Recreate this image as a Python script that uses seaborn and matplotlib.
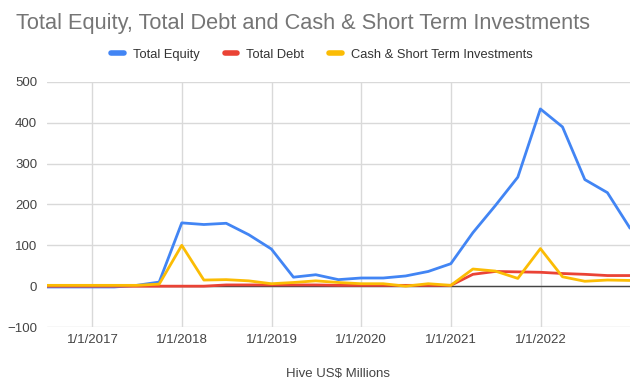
import matplotlib
matplotlib.use("Agg")
import matplotlib.pyplot as plt
from matplotlib.lines import Line2D
import seaborn as sns
import pandas as pd

dates = pd.date_range("2016-06-30", "2022-12-31", freq="QE")
total_equity = [-2, -2, -2, -2, 2, 10, 155, 151, 154, 126, 91, 22, 28, 16, 20, 20, 25, 36, 55,
                131, 197, 267, 434, 390, 261, 229, 142]
total_debt = [0, 0, 0, 0, 0, 0, 0, 0, 3, 3, 3, 3, 3, 2, 2, 2, 2, 2, 2,
              29, 36, 35, 34, 31, 29, 26, 26]
cash_sti = [2, 2, 2, 2, 2, 5, 100, 15, 16, 13, 6, 9, 13, 9, 6, 6, 0, 6, 2,
            42, 37, 19, 92, 23, 12, 15, 14]
series_names = ["Total Equity", "Total Debt", "Cash & Short Term Investments"]
colors = ["#4285F4", "#EA4335", "#FBBC04"]
tick_years = [2017, 2018, 2019, 2020, 2021, 2022]
yticks = [-100, 0, 100, 200, 300, 400, 500]

df = pd.DataFrame({"date": list(dates) * 3,
                   "value": total_equity + total_debt + cash_sti,
                   "series": sum([[n] * len(dates) for n in series_names], [])})

sns.set_style("white")
plt.rcParams["font.family"] = ["Liberation Sans", "DejaVu Sans"]

fig = plt.figure(figsize=(6.4, 3.88), dpi=100)
ax = fig.add_axes([47/640, 1 - 327/388, (630 - 47)/640, (327 - 82)/388])

for y in yticks:
    ax.axhline(y, color="#d9d9d9", lw=1, zorder=0)
for yr in tick_years:
    ax.axvline(pd.Timestamp(f"{yr}-01-01"), color="#d9d9d9", lw=1, zorder=0)
ax.axhline(0, color="#444444", lw=1, zorder=1)

sns.lineplot(data=df, x="date", y="value", hue="series", hue_order=series_names,
             palette=colors, linewidth=2, ax=ax, legend=False, zorder=3)

ax.set_xlim(dates[0], dates[-1])
ax.set_ylim(-100, 500)
ax.set_yticks(yticks)
ax.set_xticks([pd.Timestamp(f"{yr}-01-01") for yr in tick_years])
ax.set_xticklabels([f"1/1/{yr}" for yr in tick_years])
ax.tick_params(axis="both", length=0, labelsize=9.5, colors="#444444")
ax.tick_params(axis="x", pad=5)
ax.tick_params(axis="y", pad=7)
for s in ax.spines.values():
    s.set_visible(False)
ax.set_xlabel("Hive US$ Millions", fontsize=9.5, color="#444444", labelpad=16)
ax.set_ylabel("")

fig.text(16/640, 1 - 23/388, "Total Equity, Total Debt and Cash & Short Term Investments",
         fontsize=15.7, color="#757575", va="center", ha="left")

handles = [Line2D([0], [0], color=c, lw=4) for c in colors]
fig.legend(handles, series_names, loc="center", bbox_to_anchor=(322/640, 1 - 55/388),
           ncol=3, frameon=False, fontsize=9.3, handlelength=1.0, columnspacing=1.9,
           handletextpad=0.7, labelcolor="#333333")

fig.savefig("out.png", dpi=100)
